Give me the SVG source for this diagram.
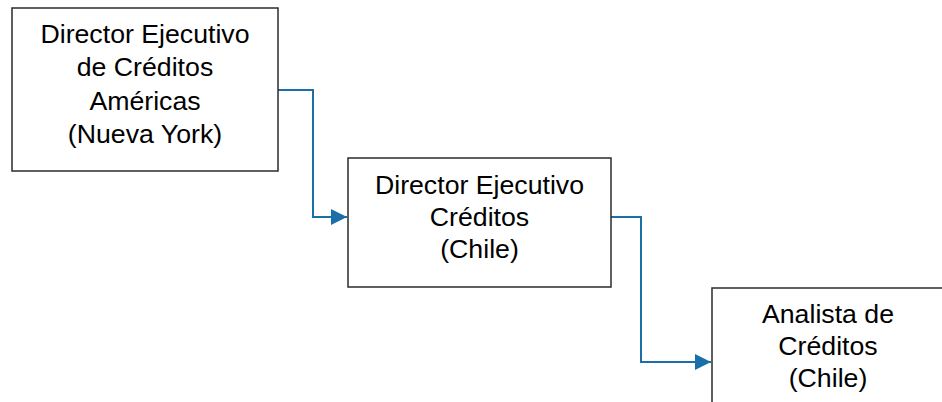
<svg xmlns="http://www.w3.org/2000/svg" width="942" height="402" viewBox="0 0 942 402">
<defs>
<style>
.box{fill:#fff;stroke:#2b2b2b;stroke-width:1.5}
.t{font-family:"Liberation Sans",Arial,sans-serif;font-size:26.7px;fill:#000;text-anchor:middle}
.c{fill:none;stroke:#1a6fa8;stroke-width:2}
</style>
<marker id="ah2" viewBox="0 0 16 16" refX="16" refY="8" markerWidth="16" markerHeight="16" orient="auto" markerUnits="userSpaceOnUse">
<path d="M0,0 L16,8 L0,16 Z" fill="#1a6fa8"/>
</marker>
</defs>
<g id="connectors">
<path class="c" d="M278,90 H313 V217 H347" marker-end="url(#ah2)"/>
<path class="c" d="M611,217 H641 V362 H711" marker-end="url(#ah2)"/>
</g>
<g id="n1">
<rect class="box" x="12" y="8" width="266" height="163"/>
<text class="t" x="145" y="43">Director Ejecutivo</text>
<text class="t" x="145" y="76">de Créditos</text>
<text class="t" x="145" y="110">Américas</text>
<text class="t" x="145" y="143">(Nueva York)</text>
</g>
<g id="n2">
<rect class="box" x="348" y="158" width="263" height="129"/>
<text class="t" x="479.5" y="194">Director Ejecutivo</text>
<text class="t" x="479.5" y="226">Créditos</text>
<text class="t" x="479.5" y="258">(Chile)</text>
</g>
<g id="n3">
<rect class="box" x="712" y="288" width="232" height="130"/>
<text class="t" x="828" y="323">Analista de</text>
<text class="t" x="828" y="355">Créditos</text>
<text class="t" x="828" y="387">(Chile)</text>
</g>
</svg>
